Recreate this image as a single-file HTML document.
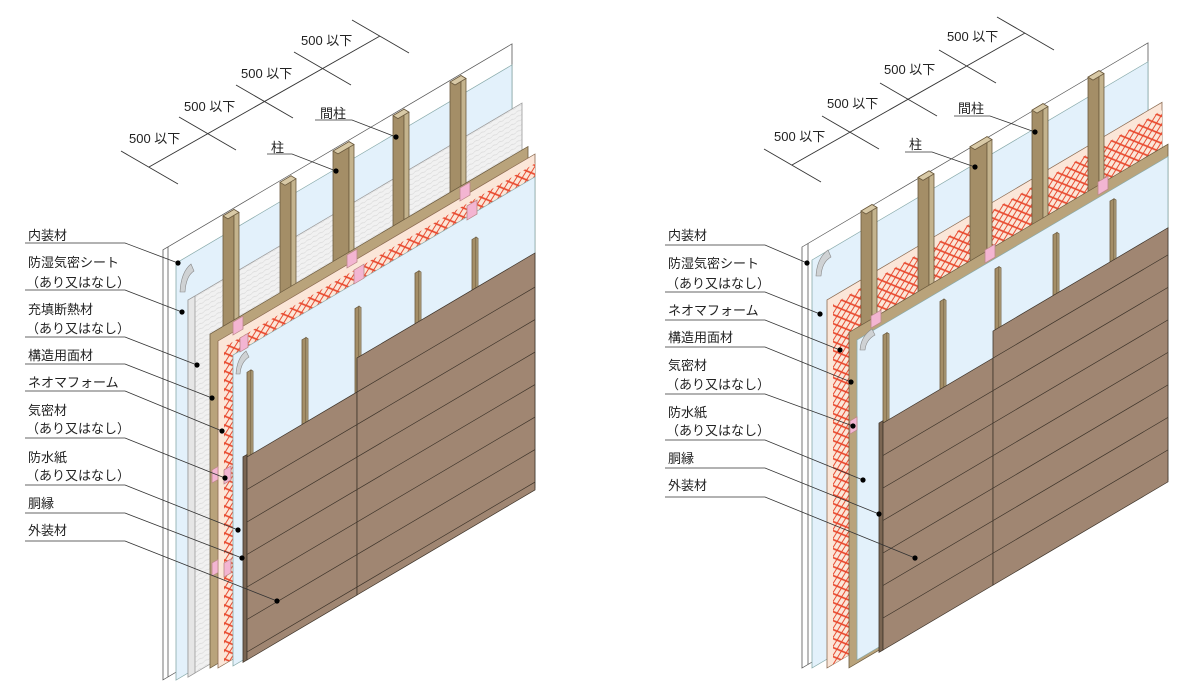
<!DOCTYPE html>
<html><head><meta charset="utf-8"><style>
html,body{margin:0;padding:0;background:#fff;overflow:hidden;}
svg{display:block;}
text{font-family:"Liberation Sans","Noto Sans CJK JP",sans-serif;font-size:13px;fill:#222;}
</style></head><body>
<svg width="1195" height="691" viewBox="0 0 1195 691" xmlns="http://www.w3.org/2000/svg">
<defs>
<pattern id="lat" patternUnits="userSpaceOnUse" width="9" height="9">
<rect width="9" height="9" fill="#fbe6d8"/>
<path d="M0,0 L9,9 M9,0 L0,9" stroke="#e8472c" stroke-width="1.3"/>
</pattern>
<pattern id="ins" patternUnits="userSpaceOnUse" width="6" height="5">
<rect width="6" height="5" fill="#f1f1f1"/>
<path d="M0,2 q1.5,-1 3,0 t3,0" stroke="#d8d8d8" stroke-width="0.7" fill="none"/>
</pattern>
</defs>

<!-- ================= LEFT PANEL ================= -->
<g stroke="#555" stroke-width="0.8">
<g transform="matrix(1,-0.59,0,1,0,0)">
  <rect x="163" y="346" width="349" height="430" fill="#fff"/>
  <line x1="168" y1="346" x2="168" y2="776"/>
  <rect x="176" y="367" width="336" height="417" fill="#e3f1fb" stroke="#8aa"/>
  <rect x="188" y="411" width="334" height="377" fill="url(#ins)" stroke="#999"/>
  <rect x="188" y="411" width="7" height="377" fill="#e6e6e6" stroke="#999"/>
</g>
<g transform="matrix(1,-0.59,0,1,0,0)" fill="#a48e67" stroke="#6b5a3e">
  <rect x="223" y="347.5" width="11" height="400"/>
  <rect x="280" y="347.5" width="11" height="400"/>
  <rect x="333" y="347.5" width="16" height="400"/>
  <rect x="393" y="347.5" width="11" height="400"/>
  <rect x="450" y="347.5" width="11" height="400"/>
</g>
<g transform="matrix(1,0.59,0,1,0,0)" fill="#c4b38d" stroke="#6b5a3e">
  <rect x="234" y="71.4" width="5" height="400"/>
  <rect x="291" y="4.1" width="5" height="400"/>
  <rect x="349" y="-64.3" width="5" height="400"/>
  <rect x="404" y="-129.2" width="5" height="400"/>
  <rect x="461" y="-196.5" width="5" height="400"/>
</g>
<g fill="#d8c9a6" stroke="#6b5a3e">
  <polygon points="223,215.9 234,209.4 239,212.4 228,218.9"/>
  <polygon points="280,182.3 291,175.8 296,178.8 285,185.3"/>
  <polygon points="333,151 349,141.6 354,144.5 338,153.9"/>
  <polygon points="393,115.6 404,109.1 409,112.1 398,118.6"/>
  <polygon points="450,82 461,75.5 466,78.5 455,85"/>
</g>
<g transform="matrix(1,-0.59,0,1,0,0)">
  <rect x="210" y="458" width="318" height="334" fill="#b9a37b" stroke="#6b5a3e"/>
  <rect x="218" y="469.6" width="317" height="327" fill="#fbe6d8" stroke="#8a6a50"/>
  <rect x="224" y="479.2" width="311" height="317" fill="url(#lat)" stroke="none"/>
  <rect x="233" y="492.5" width="302" height="311" fill="#e3f1fb" stroke="#8aa"/>
  <g fill="#f3b5d2" stroke="#b88">
    <rect x="347" y="459.7" width="10" height="13"/><rect x="354" y="478.9" width="10" height="14"/>
    <rect x="460" y="459.4" width="10" height="13"/><rect x="467" y="481.5" width="10" height="14"/>
    <rect x="233" y="459.5" width="10" height="13"/><rect x="240" y="479.6" width="8" height="14"/>
    <rect x="212" y="595.1" width="6" height="13"/><rect x="224" y="602.2" width="7" height="14"/>
    <rect x="212" y="688.1" width="6" height="13"/><rect x="224" y="695.2" width="7" height="14"/>
  </g>
  <g fill="#a48e67" stroke="#6b5a3e">
    <rect x="247" y="518" width="4" height="200"/><rect x="302" y="518" width="4" height="200"/>
    <rect x="355" y="518" width="4" height="200"/><rect x="415" y="518" width="4" height="200"/>
    <rect x="472" y="518" width="4" height="200"/>
  </g>
</g>
<g transform="matrix(1,0.59,0,1,0,0)" fill="#c4b38d" stroke="#6b5a3e">
  <rect x="251" y="221.8" width="2" height="200"/><rect x="306" y="156.9" width="2" height="200"/>
  <rect x="359" y="94.4" width="2" height="200"/><rect x="419" y="23.6" width="2" height="200"/>
  <rect x="476" y="-43.7" width="2" height="200"/>
</g>
<path d="M180,292 Q181,272 191,264 L194,271 Q186,276 185,292 Z" fill="#cfd2d4" stroke="#888" stroke-width="0.6"/>
<path d="M236,374 Q237,358 246,351 L249,357 Q241,362 240,374 Z" fill="#cfd2d4" stroke="#888" stroke-width="0.6"/>
<g transform="matrix(1,-0.59,0,1,0,0)" stroke="#3e342a">
  <rect x="243" y="600.2" width="4" height="205.5" fill="#7a6552"/>
  <rect x="247" y="602.7" width="110" height="203" fill="#a08672"/>
  <rect x="357" y="568.6" width="178" height="237" fill="#a08672"/>
  <path d="M247,635.2H535M247,667.7H535M247,700.2H535M247,732.7H535M247,765.2H535M247,797.7H535M357,602.7H535" fill="none"/>
</g>
</g>

<!-- ================= RIGHT PANEL ================= -->
<g stroke="#555" stroke-width="0.8">
<g transform="matrix(1,-0.59,0,1,0,0)">
  <rect x="802" y="720.2" width="346" height="421" fill="#fff"/>
  <line x1="808" y1="720.2" x2="808" y2="1141"/>
  <rect x="812" y="739.1" width="336" height="408" fill="#e3f1fb" stroke="#8aa"/>
  <rect x="827" y="787.9" width="335" height="368" fill="#fbe6d8" stroke="#8a6a50"/>
  <rect x="833" y="795.9" width="329" height="360" fill="url(#lat)" stroke="none"/>
</g>
<g transform="matrix(1,-0.59,0,1,0,0)" fill="#a48e67" stroke="#6b5a3e">
  <rect x="861" y="719" width="11" height="400"/>
  <rect x="918" y="719" width="11" height="400"/>
  <rect x="970" y="719" width="17" height="400"/>
  <rect x="1032" y="719" width="11" height="400"/>
  <rect x="1088" y="719" width="11" height="400"/>
</g>
<g transform="matrix(1,0.59,0,1,0,0)" fill="#c4b38d" stroke="#6b5a3e">
  <rect x="872" y="-310" width="5" height="400"/>
  <rect x="929" y="-377.2" width="5" height="400"/>
  <rect x="987" y="-445.7" width="5" height="400"/>
  <rect x="1043" y="-511.7" width="5" height="400"/>
  <rect x="1099" y="-577.8" width="5" height="400"/>
</g>
<g fill="#d8c9a6" stroke="#6b5a3e">
  <polygon points="861,211 872,204.5 877,207.5 866,214"/>
  <polygon points="918,177.4 929,170.9 934,173.9 923,180.4"/>
  <polygon points="970,146.7 987,136.7 992,139.6 975,149.6"/>
  <polygon points="1032,110.1 1043,103.6 1048,106.6 1037,113.1"/>
  <polygon points="1088,77.1 1099,70.6 1104,73.6 1093,80.1"/>
</g>
<g transform="matrix(1,-0.59,0,1,0,0)">
  <rect x="849" y="833.3" width="319" height="335.5" fill="#b9a37b" stroke="#6b5a3e"/>
  <rect x="857" y="845.6" width="311" height="320" fill="#e3f1fb" stroke="#8aa"/>
  <g fill="#f3b5d2" stroke="#b88">
    <rect x="985" y="831.2" width="10" height="13"/><rect x="1098" y="829.8" width="10" height="13"/>
    <rect x="850" y="922.5" width="7" height="13"/><rect x="871" y="829.9" width="10" height="12"/>
  </g>
  <g fill="#a48e67" stroke="#6b5a3e">
    <rect x="883" y="856" width="4" height="250"/><rect x="940" y="856" width="4" height="250"/>
    <rect x="995" y="856" width="4" height="250"/><rect x="1053" y="856" width="4" height="250"/>
    <rect x="1110" y="856" width="4" height="250"/>
  </g>
</g>
<g transform="matrix(1,0.59,0,1,0,0)" fill="#c4b38d" stroke="#6b5a3e">
  <rect x="887" y="-190.7" width="2" height="250"/><rect x="944" y="-257.9" width="2" height="250"/>
  <rect x="999" y="-322.8" width="2" height="250"/><rect x="1057" y="-391.2" width="2" height="250"/>
  <rect x="1114" y="-458.5" width="2" height="250"/>
</g>
<path d="M816,276 Q817,258 828,250 L831,257 Q822,262 821,276 Z" fill="#cfd2d4" stroke="#888" stroke-width="0.6"/>
<path d="M860,350 Q861,336 872,329 L875,335 Q866,340 865,350 Z" fill="#cfd2d4" stroke="#888" stroke-width="0.6"/>
<g transform="matrix(1,-0.59,0,1,0,0)" stroke="#3e342a">
  <rect x="879" y="941.6" width="4" height="229.4" fill="#7a6552"/>
  <rect x="883" y="944" width="110" height="227" fill="#a08672"/>
  <rect x="993" y="916.9" width="175" height="254.1" fill="#a08672"/>
  <path d="M883,976.5H1168M883,1009H1168M883,1041.5H1168M883,1074H1168M883,1106.5H1168M883,1139H1168M993,944H1168" fill="none"/>
</g>
</g>

<!-- ================= DIMENSIONS ================= -->
<g stroke="#333" stroke-width="0.9" fill="none">
  <line x1="149" y1="167" x2="380" y2="36"/>
  <line x1="121" y1="151" x2="178" y2="184"/>
  <line x1="179" y1="117" x2="236" y2="150"/>
  <line x1="236" y1="85" x2="293" y2="118"/>
  <line x1="294" y1="52" x2="351" y2="85"/>
  <line x1="352" y1="20" x2="409" y2="53"/>
  <line x1="792" y1="165" x2="1025" y2="33"/>
  <line x1="764" y1="149" x2="821" y2="182"/>
  <line x1="822" y1="116" x2="879" y2="149"/>
  <line x1="880" y1="83" x2="937" y2="116"/>
  <line x1="939" y1="50" x2="996" y2="83"/>
  <line x1="997" y1="17" x2="1054" y2="50"/>
</g>
<g>
  <text x="129" y="143">500 以下</text>
  <text x="184" y="111">500 以下</text>
  <text x="241" y="78">500 以下</text>
  <text x="301" y="45">500 以下</text>
  <text x="774" y="141">500 以下</text>
  <text x="827" y="108">500 以下</text>
  <text x="884" y="74">500 以下</text>
  <text x="947" y="41">500 以下</text>
</g>

<!-- ================= LEADERS ================= -->
<g stroke="#333" stroke-width="0.8" fill="none">
  <polyline points="267,154 292,154 336,171"/>
  <polyline points="315,120 352,120 396,137"/>
  <polyline points="905,152 932,152 975,167"/>
  <polyline points="954,116 990,116 1035,132"/>
  <polyline points="25,243 125,243 178,263"/>
  <polyline points="25,290 125,290 182,312"/>
  <polyline points="25,337 125,337 197,365"/>
  <polyline points="25,364 125,364 212,398"/>
  <polyline points="25,391 125,391 222,431"/>
  <polyline points="25,438 125,438 225,478"/>
  <polyline points="25,485 125,485 238,530"/>
  <polyline points="25,513 125,513 242,558"/>
  <polyline points="25,541 125,541 277,601"/>
  <polyline points="665,245 765,245 807,263"/>
  <polyline points="665,292 765,292 820,314"/>
  <polyline points="665,320 765,320 840,350"/>
  <polyline points="665,347 765,347 851,382"/>
  <polyline points="665,394 765,394 853,426"/>
  <polyline points="665,440 765,440 863,480"/>
  <polyline points="665,468 765,468 879,514"/>
  <polyline points="665,497 765,497 915,558"/>
</g>
<g fill="#000">
  <circle cx="336" cy="171" r="2.6"/><circle cx="396" cy="137" r="2.6"/>
  <circle cx="975" cy="167" r="2.6"/><circle cx="1035" cy="132" r="2.6"/>
  <circle cx="178" cy="263" r="2.6"/><circle cx="182" cy="312" r="2.6"/><circle cx="197" cy="365" r="2.6"/>
  <circle cx="212" cy="398" r="2.6"/><circle cx="222" cy="431" r="2.6"/><circle cx="225" cy="478" r="2.6"/>
  <circle cx="238" cy="530" r="2.6"/><circle cx="242" cy="558" r="2.6"/><circle cx="277" cy="601" r="2.6"/>
  <circle cx="807" cy="263" r="2.6"/><circle cx="820" cy="314" r="2.6"/><circle cx="840" cy="350" r="2.6"/>
  <circle cx="851" cy="382" r="2.6"/><circle cx="853" cy="426" r="2.6"/><circle cx="863" cy="480" r="2.6"/>
  <circle cx="879" cy="514" r="2.6"/><circle cx="915" cy="558" r="2.6"/>
</g>
<g>
  <text x="271" y="152">柱</text>
  <text x="320" y="118">間柱</text>
  <text x="909" y="149">柱</text>
  <text x="958" y="113">間柱</text>

  <text x="28" y="240">内装材</text>
  <text x="28" y="267">防湿気密シート</text>
  <text x="26" y="287">（あり又はなし）</text>
  <text x="28" y="314">充填断熱材</text>
  <text x="26" y="333">（あり又はなし）</text>
  <text x="28" y="360">構造用面材</text>
  <text x="28" y="387">ネオマフォーム</text>
  <text x="28" y="415">気密材</text>
  <text x="26" y="433">（あり又はなし）</text>
  <text x="28" y="462">防水紙</text>
  <text x="26" y="480">（あり又はなし）</text>
  <text x="28" y="508">胴縁</text>
  <text x="28" y="535">外装材</text>

  <text x="668" y="240">内装材</text>
  <text x="668" y="268">防湿気密シート</text>
  <text x="666" y="288">（あり又はなし）</text>
  <text x="668" y="315">ネオマフォーム</text>
  <text x="668" y="342">構造用面材</text>
  <text x="668" y="370">気密材</text>
  <text x="666" y="389">（あり又はなし）</text>
  <text x="668" y="417">防水紙</text>
  <text x="666" y="435">（あり又はなし）</text>
  <text x="668" y="463">胴縁</text>
  <text x="668" y="490">外装材</text>
</g>
</svg>
</body></html>
